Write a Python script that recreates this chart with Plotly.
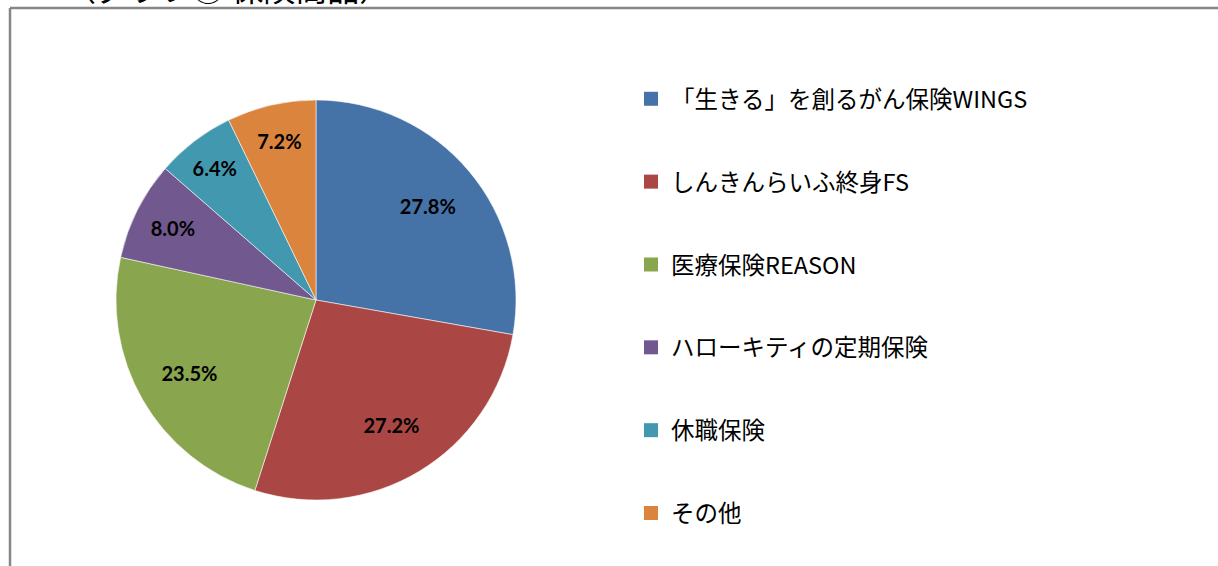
import plotly.graph_objects as go

# ---- data ----
categories = ["「生きる」を創るがん保険WINGS", "しんきんらいふ終身FS", "医療保険REASON",
              "ハローキティの定期保険", "休職保険", "その他"]
shares = [27.8, 27.2, 23.5, 8.0, 6.4, 7.2]
colors = ["#4572A7", "#AA4643", "#89A54E", "#71588F", "#4198AF", "#DB843D"]
title_text = "（グラフ③ 保険商品）"

W, H = 1218, 566
pie_domain = dict(x=[116 / W, 516 / W], y=[(H - 500) / H, (H - 100) / H])

fig = go.Figure()

# the pie itself
fig.add_trace(go.Pie(
    labels=categories, values=shares, sort=False, direction="clockwise", rotation=0,
    marker=dict(colors=colors, line=dict(color="rgba(255,255,255,0.7)", width=0.8)),
    textinfo="none", domain=pie_domain, showlegend=False, hoverinfo="label+percent",
))

# transparent ring with the same slices, used only to carry the percentage labels further out
fig.add_trace(go.Pie(
    labels=categories, values=shares, sort=False, direction="clockwise", rotation=0,
    hole=0.46,
    marker=dict(colors=["rgba(0,0,0,0)"] * len(shares), line=dict(width=0)),
    texttemplate="%{value:.1f}%",
    textposition="inside",
    insidetextorientation="horizontal",
    textfont=dict(family="Lato, Open Sans, sans-serif", size=20, color="black", weight="bold"),
    domain=pie_domain, showlegend=False, hoverinfo="skip",
))

# legend entries (one per category)
for i, (cat, col) in enumerate(zip(categories, colors)):
    fig.add_trace(go.Scatter(
        x=[None], y=[None], mode="markers", name=cat,
        legendgroup=f"g{i}",
        marker=dict(symbol="square", size=14, color=col),
        showlegend=True,
    ))

fig.update_layout(
    width=W, height=H,
    margin=dict(l=0, r=0, t=0, b=0),
    paper_bgcolor="white",
    plot_bgcolor="rgba(0,0,0,0)",
    xaxis=dict(visible=False),
    yaxis=dict(visible=False),
    legend=dict(
        x=631 / W, y=1 - 77 / H, xanchor="left", yanchor="top",
        traceorder="grouped", tracegroupgap=49.3, itemwidth=30,
        font=dict(family="Noto Sans CJK JP, sans-serif", size=23.5, color="black"),
        bgcolor="rgba(0,0,0,0)",
    ),
    shapes=[
        dict(type="line", xref="paper", yref="paper", x0=10 / W, x1=1.0, y0=1 - 8 / H, y1=1 - 8 / H,
             line=dict(color="#868686", width=2.5)),
        dict(type="line", xref="paper", yref="paper", x0=10 / W, x1=10 / W, y0=1 - 8 / H, y1=0,
             line=dict(color="#868686", width=2.5)),
    ],
    annotations=[
        dict(text=title_text, xref="paper", yref="paper", x=62 / W, y=1 - 12 / H,
             xanchor="left", yanchor="bottom", showarrow=False,
             font=dict(family="Noto Sans CJK JP, sans-serif", size=32, color="black")),
    ],
)

fig.write_html("out.html", config={"displayModeBar": False},
               post_script="document.body.style.margin='0';")
